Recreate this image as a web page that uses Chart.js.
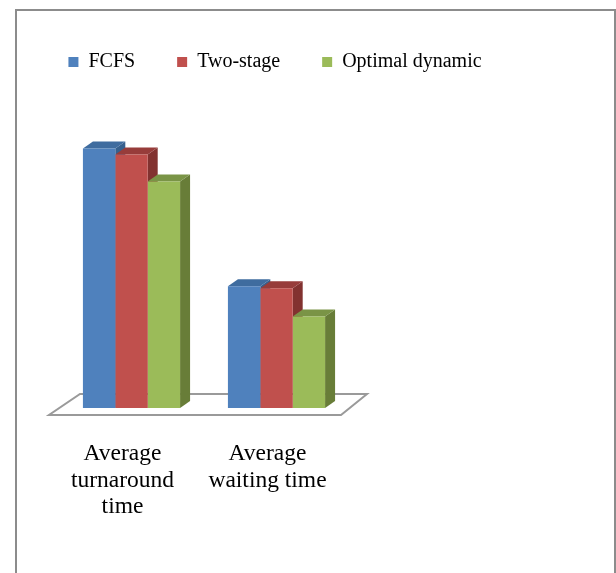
<!DOCTYPE html>
<html>
<head>
<meta charset="utf-8">
<script src="https://cdn.jsdelivr.net/npm/chart.js@4"></script>
<style>
  html, body { margin: 0; padding: 0; background: #fff; overflow: hidden; }
  body { width: 616px; height: 573px; position: relative; }
  #frame { position: absolute; left: 15px; top: 9px; width: 597px; height: 620px; border: 2px solid #8c8c8c; }
  #wrap { position: absolute; left: 20px; top: 10px; width: 510px; height: 560px; }
</style>
</head>
<body>
<div id="frame"></div>
<div id="wrap"><canvas id="chart"></canvas></div>
<script>
// categories and series (relative units)
const categories = [["Average", "turnaround", "time"], ["Average", "waiting time"]];
const fcfs = [258, 121];
const twoStage = [252, 119];
const optimalDynamic = [225, 91];

const frontColors = ['#4F81BD', '#C0504D', '#9BBB59'];
const topColors = ['#3F6C9F', '#973C3A', '#7A9446'];
const sideColors = ['#36608E', '#823230', '#687D38'];

// fake 3D: floor, top and side faces from the bar elements
const depth = { dx: 10, dy: -7 };
const bar3d = {
    id: 'bar3d',
    beforeDatasetsDraw(chart) {
        const ctx = chart.ctx;
        const area = chart.chartArea;
        const base = chart.scales.y.getPixelForValue(0);

        // floor
        ctx.save();
        ctx.beginPath();
        ctx.moveTo(area.left - 10, base + 7);
        ctx.lineTo(area.right - 8, base + 7);
        ctx.lineTo(area.right + 18, base - 14);
        ctx.lineTo(area.left + 21, base - 14);
        ctx.closePath();
        ctx.fillStyle = '#fff';
        ctx.fill();
        ctx.strokeStyle = '#9a9a9a';
        ctx.lineWidth = 2;
        ctx.stroke();
        ctx.restore();

        const n = chart.data.labels.length;
        for (let j = 0; j < n; j++) {
            chart.data.datasets.forEach((ds, i) => {
                const el = chart.getDatasetMeta(i).data[j];
                if (!el) return;
                const w = el.width;
                const l = el.x - w / 2, r = el.x + w / 2;
                const t = el.y, b = el.base;
                ctx.save();
                // side
                ctx.beginPath();
                ctx.moveTo(r, t);
                ctx.lineTo(r + depth.dx, t + depth.dy);
                ctx.lineTo(r + depth.dx, b + depth.dy);
                ctx.lineTo(r, b);
                ctx.closePath();
                ctx.fillStyle = sideColors[i];
                ctx.fill();
                // top
                ctx.beginPath();
                ctx.moveTo(l, t);
                ctx.lineTo(l + depth.dx, t + depth.dy);
                ctx.lineTo(r + depth.dx, t + depth.dy);
                ctx.lineTo(r, t);
                ctx.closePath();
                ctx.fillStyle = topColors[i];
                ctx.fill();
                ctx.restore();
            });
        }
    }
};

const serif = "'Liberation Serif', 'Times New Roman', serif";

new Chart(document.getElementById('chart'), {
    type: 'bar',
    data: {
        labels: categories,
        datasets: [
            { label: 'FCFS', data: fcfs, backgroundColor: frontColors[0] },
            { label: 'Two-stage', data: twoStage, backgroundColor: frontColors[1] },
            { label: 'Optimal dynamic', data: optimalDynamic, backgroundColor: frontColors[2] }
        ]
    },
    options: {
        responsive: true,
        maintainAspectRatio: false,
        animation: false,
        datasets: { bar: { barPercentage: 1, categoryPercentage: 0.67 } },
        layout: { padding: { left: 0, right: 0, top: 0, bottom: 17 } },
        scales: {
            x: {
                grid: { display: false, drawTicks: false },
                border: { display: false },
                ticks: {
                    color: '#000',
                    font: { family: serif, size: 23.5, lineHeight: 1.12 },
                    padding: 33,
                    labelOffset: -9,
                    maxRotation: 0,
                    autoSkip: false
                }
            },
            y: {
                min: 0, max: 324,
                grid: { display: false, drawTicks: false },
                border: { display: false },
                ticks: { display: false },
                afterFit: (s) => { s.width = 39; }
            },
            // empty spacer on the right, keeps the bars on the left like the original
            spacer: {
                type: 'linear', position: 'right',
                grid: { display: false, drawTicks: false },
                border: { display: false },
                ticks: { display: false },
                afterFit: (s) => { s.width = 181; }
            }
        },
        plugins: {
            legend: {
                position: 'top',
                labels: {
                    color: '#000',
                    boxWidth: 10,
                    boxHeight: 10,
                    padding: 42,
                    font: { family: serif, size: 20 }
                }
            },
            tooltip: { enabled: false }
        }
    },
    plugins: [bar3d]
});
</script>
</body>
</html>
